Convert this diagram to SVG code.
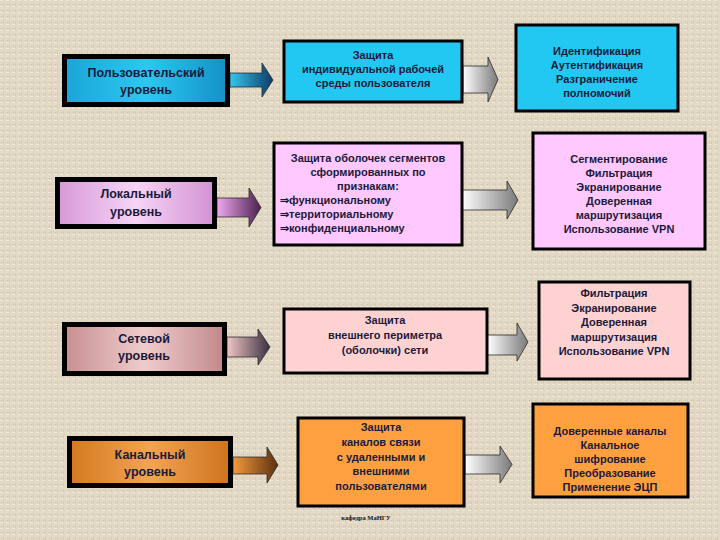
<svg xmlns="http://www.w3.org/2000/svg" width="720" height="540" viewBox="0 0 720 540">
<defs>
<pattern id="tex" width="6" height="6" patternUnits="userSpaceOnUse">
<rect width="6" height="6" fill="#e3d8c4"/>
<rect x="0" y="0" width="3" height="1" fill="#efe7d8"/>
<rect x="3" y="3" width="1" height="3" fill="#d6cab4"/>
<rect x="1" y="4" width="1" height="1" fill="#cdbfa8"/>
</pattern>
<linearGradient id="gCyan" x1="0" y1="0" x2="1" y2="0"><stop offset="0" stop-color="#1aa6d8"/><stop offset="0.5" stop-color="#2cc8f0"/><stop offset="1" stop-color="#1592c8"/></linearGradient>
<linearGradient id="gLilac" x1="0" y1="0" x2="1" y2="0"><stop offset="0" stop-color="#d89ad8"/><stop offset="0.5" stop-color="#f6d4f6"/><stop offset="1" stop-color="#d494d4"/></linearGradient>
<linearGradient id="gRose" x1="0" y1="0" x2="1" y2="0"><stop offset="0" stop-color="#c99192"/><stop offset="0.5" stop-color="#efcccc"/><stop offset="1" stop-color="#c48a8c"/></linearGradient>
<linearGradient id="gOrange" x1="0" y1="0" x2="1" y2="0"><stop offset="0" stop-color="#d57a22"/><stop offset="0.5" stop-color="#f3a452"/><stop offset="1" stop-color="#cf7420"/></linearGradient>
<linearGradient id="aCyan" x1="0" y1="0" x2="1" y2="0"><stop offset="0" stop-color="#36c4ee"/><stop offset="1" stop-color="#0d3c66"/></linearGradient>
<linearGradient id="aLilac" x1="0" y1="0" x2="1" y2="0"><stop offset="0" stop-color="#f0a8f0"/><stop offset="1" stop-color="#4a2050"/></linearGradient>
<linearGradient id="aRose" x1="0" y1="0" x2="1" y2="0"><stop offset="0" stop-color="#f0c6c6"/><stop offset="1" stop-color="#3a3040"/></linearGradient>
<linearGradient id="aOrange" x1="0" y1="0" x2="1" y2="0"><stop offset="0" stop-color="#f59a3c"/><stop offset="1" stop-color="#5a3010"/></linearGradient>
<linearGradient id="aGray" x1="0" y1="0" x2="1" y2="0"><stop offset="0" stop-color="#ffffff"/><stop offset="1" stop-color="#7a7a7a"/></linearGradient>
<style>
.t{font-family:"Liberation Sans",Arial,sans-serif;font-weight:bold;fill:#1a1a3a;text-anchor:middle}
.st{text-anchor:start}
.l{font-size:12.5px}
.m{font-size:11px}
.s{font-size:11px}
.frame{fill:#000}
.box{stroke:#000;stroke-width:3}
.arr{stroke:#2a2a2a;stroke-width:0.8}
</style>
</defs>
<rect width="720" height="540" fill="url(#tex)"/>

<g id="connectors">
<path class="arr" fill="url(#aCyan)" d="M230,73 H262 V63 L273,80 L262,97 V87 H230 Z"/>
<path class="arr" fill="url(#aGray)" d="M463,66 H488 V57 L498,79.5 L488,102 V93 H463 Z"/>
<path class="arr" fill="url(#aLilac)" d="M217,198 H249 V188 L261,207.5 L249,227 V217 H217 Z"/>
<path class="arr" fill="url(#aGray)" d="M462,190 H507 V181 L518,200 L507,219 V210 H462 Z"/>
<path class="arr" fill="url(#aRose)" d="M227,337 H258 V329 L270,347 L258,365 V357 H227 Z"/>
<path class="arr" fill="url(#aGray)" d="M487,335 H517 V323 L528,342 L517,361 V355 H487 Z"/>
<path class="arr" fill="url(#aOrange)" d="M233,457 H267 V447 L278,465 L267,483 V474 H233 Z"/>
<path class="arr" fill="url(#aGray)" d="M465,455 H500 V446 L512,464.5 L500,483 V474 H465 Z"/>
</g>

<g id="user-level">
<rect class="frame" x="62" y="54" width="168" height="53"/>
<rect x="67" y="59" width="158" height="43" fill="url(#gCyan)"/>
<text class="t l" x="146" y="77">Пользовательский</text>
<text class="t l" x="146" y="94">уровень</text>
</g>
<g id="user-protect">
<rect class="box" x="284" y="41" width="178" height="61" fill="#22c8f2"/>
<text class="t m" x="373" y="59">Защита</text>
<text class="t m" x="373" y="73">индивидуальной рабочей</text>
<text class="t m" x="373" y="87">среды пользователя</text>
</g>
<g id="user-means">
<rect class="box" x="516" y="25" width="162" height="86" fill="#22c8f2"/>
<text class="t s" x="597" y="55">Идентификация</text>
<text class="t s" x="597" y="69">Аутентификация</text>
<text class="t s" x="597" y="83">Разграничение</text>
<text class="t s" x="597" y="97">полномочий</text>
</g>

<g id="local-level">
<rect class="frame" x="55" y="177" width="162" height="52"/>
<rect x="60" y="182" width="152" height="42" fill="url(#gLilac)"/>
<text class="t l" x="136" y="198">Локальный</text>
<text class="t l" x="136" y="216">уровень</text>
</g>
<g id="local-protect">
<rect class="box" x="274" y="143" width="188" height="102" fill="#ffc8ff"/>
<text class="t m" x="368" y="162">Защита  оболочек сегментов</text>
<text class="t m" x="368" y="176">сформированных по</text>
<text class="t m" x="368" y="190">признакам:</text>
<text class="t m st" x="280" y="204">⇒функциональному</text>
<text class="t m st" x="280" y="218">⇒территориальному</text>
<text class="t m st" x="280" y="232">⇒конфиденциальному</text>
</g>
<g id="local-means">
<rect class="box" x="533" y="133" width="172" height="116" fill="#ffc8ff"/>
<text class="t s" x="619" y="163">Сегментирование</text>
<text class="t s" x="619" y="177">Фильтрация</text>
<text class="t s" x="619" y="191">Экранирование</text>
<text class="t s" x="619" y="205">Доверенная</text>
<text class="t s" x="619" y="219">маршрутизация</text>
<text class="t s" x="619" y="233">Использование VPN</text>
</g>

<g id="net-level">
<rect class="frame" x="62" y="322" width="165" height="54"/>
<rect x="67" y="327" width="155" height="44" fill="url(#gRose)"/>
<text class="t l" x="144" y="343">Сетевой</text>
<text class="t l" x="144" y="360">уровень</text>
</g>
<g id="net-protect">
<rect class="box" x="284" y="309" width="203" height="64" fill="#ffd2d2"/>
<text class="t m" x="385" y="324">Защита</text>
<text class="t m" x="385" y="339">внешнего периметра</text>
<text class="t m" x="385" y="354">(оболочки) сети</text>
</g>
<g id="net-means">
<rect class="box" x="539" y="282" width="151" height="97" fill="#ffd2d2"/>
<text class="t s" x="614" y="297">Фильтрация</text>
<text class="t s" x="614" y="312">Экранирование</text>
<text class="t s" x="614" y="326">Доверенная</text>
<text class="t s" x="614" y="341">маршрутизация</text>
<text class="t s" x="614" y="355">Использование VPN</text>
</g>

<g id="link-level">
<rect class="frame" x="67" y="436" width="166" height="52"/>
<rect x="72" y="441" width="156" height="42" fill="url(#gOrange)"/>
<text class="t l" x="150" y="459">Канальный</text>
<text class="t l" x="150" y="476">уровень</text>
</g>
<g id="link-protect">
<rect class="box" x="298" y="418" width="166" height="88" fill="#ffa040"/>
<text class="t m" x="381" y="431">Защита</text>
<text class="t m" x="381" y="446">каналов связи</text>
<text class="t m" x="381" y="461">с удаленными и</text>
<text class="t m" x="381" y="475">внешними</text>
<text class="t m" x="381" y="490">пользователями</text>
</g>
<g id="link-means">
<rect class="box" x="533" y="404" width="155" height="93" fill="#ffa040"/>
<text class="t s" x="610" y="435">Доверенные каналы</text>
<text class="t s" x="610" y="449">Канальное</text>
<text class="t s" x="610" y="463">шифрование</text>
<text class="t s" x="610" y="477">Преобразование</text>
<text class="t s" x="610" y="491">Применение ЭЦП</text>
</g>

<text x="366" y="520" font-family="'Liberation Serif',serif" font-size="6.5" font-weight="bold" fill="#111" text-anchor="middle">кафедра МаНГУ</text>
</svg>
